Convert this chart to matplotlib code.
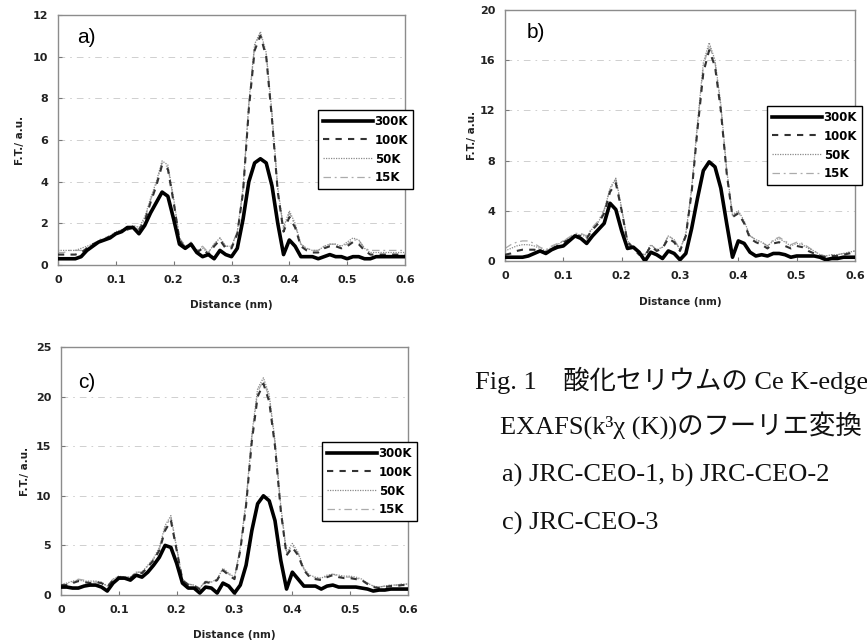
import matplotlib
matplotlib.use('Agg')
import matplotlib.pyplot as plt
import numpy as np

# ---------------- data ----------------
distance = np.round(np.arange(61) * 0.01, 2)   # nm
labels = ['300K', '100K', '50K', '15K']

a_300K = [0.3,0.3,0.3,0.3,0.4,0.7,0.9,1.1,1.2,1.3, 1.5,1.6,1.8,1.8,1.5,1.9,2.5,3.0,3.5,3.3,
          2.2,1.0,0.8,1.0,0.6,0.4,0.5,0.3,0.7,0.5, 0.4,0.8,2.2,4.0,4.9,5.1,4.9,3.8,2.0,0.5,
          1.2,0.9,0.4,0.4,0.4,0.3,0.4,0.5,0.4,0.4, 0.3,0.4,0.4,0.3,0.3,0.4,0.4,0.4,0.4,0.4,0.4]
a_100K = [0.5,0.5,0.5,0.5,0.6,0.8,1.0,1.1,1.2,1.4, 1.5,1.6,1.7,1.8,1.7,2.1,3.0,3.8,4.8,4.6,
          3.0,1.2,0.8,1.0,0.6,0.8,0.5,0.9,1.2,0.8, 0.8,1.5,3.5,7.5,10.3,11.0,10.0,7.0,3.5,1.6,
          2.3,1.8,0.9,0.7,0.6,0.6,0.8,0.9,0.9,0.8, 0.9,1.1,1.0,0.7,0.5,0.5,0.5,0.5,0.5,0.5,0.5]
a_50K = [0.7,0.7,0.7,0.7,0.8,0.9,1.0,1.1,1.2,1.4, 1.6,1.7,1.7,1.9,1.8,2.3,3.2,4.0,5.0,4.8,
         3.2,1.3,0.9,1.0,0.7,0.8,0.6,1.0,1.3,0.9, 0.9,1.6,3.7,7.8,10.6,11.2,10.2,7.3,3.7,1.8,
         2.6,2.0,1.0,0.8,0.7,0.7,0.9,1.0,1.0,0.9, 1.1,1.3,1.2,0.8,0.6,0.6,0.6,0.6,0.6,0.6,0.6]
a_15K = [0.6,0.6,0.7,0.7,0.7,0.8,1.0,1.2,1.3,1.4, 1.5,1.6,1.8,1.8,1.7,2.2,3.1,3.9,4.9,4.7,
         3.1,1.3,0.9,1.1,0.7,0.9,0.6,1.0,1.3,0.9, 0.9,1.6,3.6,7.7,10.5,11.1,10.1,7.2,3.6,1.7,
         2.5,1.9,1.0,0.8,0.7,0.7,0.9,1.0,1.0,0.9, 1.0,1.2,1.2,0.8,0.7,0.7,0.7,0.7,0.7,0.7,0.7]

b_300K = [0.3,0.3,0.3,0.3,0.4,0.6,0.8,0.6,0.9,1.1, 1.2,1.6,2.0,1.8,1.4,2.0,2.5,3.0,4.6,4.1,
          2.4,1.0,1.1,0.7,0.0,0.7,0.5,0.2,0.8,0.6, 0.1,0.6,2.6,5.0,7.2,7.9,7.5,5.8,3.0,0.3,
          1.6,1.4,0.7,0.4,0.5,0.4,0.6,0.6,0.5,0.3, 0.4,0.4,0.4,0.4,0.3,0.1,0.2,0.2,0.3,0.3,0.3]
b_100K = [0.5,0.6,0.8,0.9,0.9,0.9,0.8,0.7,1.0,1.2, 1.5,1.7,2.0,2.0,1.8,2.5,3.0,3.8,5.5,6.2,
          4.0,1.5,1.0,0.5,0.4,1.2,0.8,1.0,1.8,1.5, 0.8,2.0,5.5,10.5,15.0,16.8,15.5,12.0,7.0,3.5,
          3.8,3.0,1.8,1.5,1.3,1.0,1.4,1.5,1.2,1.0, 1.2,1.1,0.8,0.6,0.4,0.3,0.4,0.4,0.5,0.6,0.7]
b_50K = [0.8,1.0,1.2,1.3,1.3,1.2,1.0,0.8,1.1,1.3, 1.6,1.8,2.1,2.1,1.9,2.6,3.1,4.0,5.8,6.6,
         4.2,1.6,1.1,0.6,0.5,1.3,0.9,1.1,2.0,1.7, 0.9,2.2,5.8,11.0,15.8,17.4,16.0,12.5,7.3,3.7,
         4.0,3.2,2.0,1.7,1.5,1.2,1.6,1.8,1.5,1.2, 1.4,1.3,1.0,0.8,0.5,0.4,0.5,0.5,0.6,0.7,0.8]
b_15K = [1.0,1.3,1.5,1.6,1.6,1.4,1.1,0.9,1.2,1.4, 1.6,1.9,2.2,2.2,2.0,2.7,3.2,4.1,5.7,6.5,
         4.1,1.6,1.1,0.6,0.5,1.3,0.9,1.1,2.0,1.7, 0.9,2.1,5.7,10.8,15.5,17.2,15.8,12.3,7.2,3.6,
         3.9,3.1,2.0,1.7,1.5,1.2,1.7,1.9,1.6,1.3, 1.5,1.4,1.1,0.8,0.5,0.4,0.5,0.5,0.6,0.7,0.8]

c_300K = [0.8,0.8,0.7,0.7,0.9,1.0,1.0,0.8,0.4,1.2, 1.7,1.7,1.5,2.0,1.8,2.3,3.0,3.8,5.0,4.8,
          3.2,1.2,0.7,0.7,0.2,0.8,0.7,0.2,1.2,0.9, 0.2,1.0,3.0,6.5,9.2,10.0,9.5,7.5,3.5,0.6,
          2.3,1.6,0.9,0.9,0.9,0.6,0.9,1.0,0.8,0.8, 0.8,0.8,0.7,0.6,0.4,0.5,0.5,0.6,0.6,0.6,0.6]
c_100K = [1.0,1.0,1.2,1.4,1.3,1.2,1.3,1.2,0.8,1.5, 1.8,1.7,1.7,2.2,2.2,2.8,3.5,4.5,6.5,7.5,
          4.5,1.5,1.0,0.9,0.6,1.3,1.2,1.5,2.5,2.0, 1.6,4.5,9.0,15.5,20.0,21.3,19.5,15.0,8.5,4.0,
          4.8,4.0,2.5,1.8,1.6,1.5,1.8,2.0,1.8,1.7, 1.7,1.6,1.5,1.1,0.8,0.7,0.8,0.9,0.9,1.0,1.0]
c_50K = [1.1,1.2,1.4,1.5,1.4,1.4,1.4,1.3,0.9,1.6, 1.9,1.8,1.8,2.3,2.3,3.0,3.7,4.8,7.0,8.0,
         4.8,1.6,1.1,1.0,0.7,1.4,1.3,1.6,2.7,2.2, 1.8,4.8,9.5,16.2,20.8,21.9,20.2,15.6,9.0,4.3,
         5.2,4.3,2.7,2.0,1.8,1.7,2.0,2.1,2.0,1.9, 1.9,1.8,1.6,1.2,0.9,0.8,0.9,1.0,1.0,1.1,1.1]
c_15K = [1.0,1.1,1.3,1.6,1.5,1.3,1.3,1.2,0.9,1.6, 1.9,1.8,1.8,2.3,2.3,2.9,3.6,4.6,6.8,7.8,
         4.7,1.6,1.1,1.0,0.7,1.4,1.3,1.6,2.6,2.1, 1.7,4.7,9.3,15.9,20.5,21.6,19.9,15.3,8.8,4.1,
         5.0,4.2,2.6,1.9,1.7,1.6,1.9,2.1,1.9,1.8, 1.8,1.7,1.5,1.2,0.9,0.8,0.9,1.0,1.0,1.1,1.1]

x_ticks = [0, 0.1, 0.2, 0.3, 0.4, 0.5, 0.6]
x_ticklabels = ['0', '0.1', '0.2', '0.3', '0.4', '0.5', '0.6']
a_yticks = [0, 2, 4, 6, 8, 10, 12]
b_yticks = [0, 4, 8, 12, 16, 20]
c_yticks = [0, 5, 10, 15, 20, 25]

caption_lines = ['Fig. 1\u3000酸化セリウムの Ce K-edge',
                 'EXAFS(k\u00b3\u03c7 (K))のフーリエ変換',
                 'a) JRC-CEO-1, b) JRC-CEO-2',
                 'c) JRC-CEO-3']

# ---------------- styling ----------------
W, H = 867, 642
fig = plt.figure(figsize=(W / 100, H / 100), dpi=100)
fig.patch.set_facecolor('white')

styles = {
    '300K': dict(color='black', lw=2.6, ls='-', zorder=5),
    '100K': dict(color='#333333', lw=1.5, ls=(0, (3, 3)), zorder=4),
    '50K': dict(color='#8a8a8a', lw=0.9, ls=(0, (1, 1)), zorder=3),
    '15K': dict(color='#ababab', lw=0.9, ls=(0, (6, 3, 1.5, 3)), zorder=2),
}

def px_axes(l, t, r, b):
    return fig.add_axes([l / W, 1 - b / H, (r - l) / W, (b - t) / H])

panels = [
    dict(box=(58, 15, 405, 265), series=[a_300K, a_100K, a_50K, a_15K], yticks=a_yticks,
         tag='a)', tagpos=(0.055, 0.91), leg=(318, 110), xlab=-40 / 250, ylab=-0.11),
    dict(box=(505, 10, 855, 261), series=[b_300K, b_100K, b_50K, b_15K], yticks=b_yticks,
         tag='b)', tagpos=(0.063, 0.91), leg=(767, 106), xlab=-41 / 251, ylab=-0.094),
    dict(box=(61, 347, 408, 595), series=[c_300K, c_100K, c_50K, c_15K], yticks=c_yticks,
         tag='c)', tagpos=(0.05, 0.855), leg=(322, 442), xlab=-40 / 248, ylab=-0.104),
]

for p in panels:
    ax = px_axes(*p['box'])
    handles = {}
    for lab, ys in zip(labels, p['series']):
        st = styles[lab]
        (ln,) = ax.plot(distance, ys, color=st['color'], lw=st['lw'], ls=st['ls'],
                        zorder=st['zorder'], label=lab, solid_joinstyle='round')
        handles[lab] = ln
    ax.set_xlim(0, 0.6)
    ax.set_ylim(p['yticks'][0], p['yticks'][-1])
    ax.set_xticks(x_ticks)
    ax.set_xticklabels(x_ticklabels)
    ax.set_yticks(p['yticks'])
    for t in p['yticks'][1:-1]:
        ax.axhline(t, color='#c8c8c8', lw=0.6, ls=(0, (8, 6, 2, 6)), zorder=1)
    for s in ax.spines.values():
        s.set_color('#8c8c8c')
        s.set_linewidth(1.0)
    ax.tick_params(direction='in', length=3, width=0.8, color='#777777',
                   labelsize=8, pad=7)
    for tl in ax.get_xticklabels() + ax.get_yticklabels():
        tl.set_fontweight('bold')
        tl.set_color('#222222')
    ax.text(0.5, p['xlab'], 'Distance (nm)', transform=ax.transAxes, ha='center',
            va='center', fontsize=7.5, fontweight='bold', color='#222222')
    ax.text(p['ylab'], 0.5, 'F.T./ a.u.', transform=ax.transAxes, ha='center',
            va='center', rotation=90, fontsize=7.5, fontweight='bold', color='#222222')
    ax.text(p['tagpos'][0], p['tagpos'][1], p['tag'], transform=ax.transAxes,
            ha='left', va='center', fontsize=15, family='Liberation Sans')
    lx, ly = p['leg']
    leg = ax.legend([handles[l] for l in labels], labels, loc='upper left',
                    bbox_to_anchor=(lx / W, 1 - ly / H), bbox_transform=fig.transFigure,
                    borderaxespad=0, fancybox=False, framealpha=1, edgecolor='black',
                    handlelength=4.3, handletextpad=0.1, labelspacing=0.5,
                    borderpad=0.4, prop=dict(size=8.5, weight='bold'))
    leg.get_frame().set_linewidth(1.0)
    leg.set_zorder(10)

cap_font = ['Liberation Serif', 'Noto Sans CJK JP']
cap_pos = [(475, 380), (500, 425), (502, 475), (502, 523)]
for (cx, cy), line in zip(cap_pos, caption_lines):
    fig.text(cx / W, 1 - cy / H, line, ha='left', va='center', fontsize=19,
             family=cap_font, color='#111111')

fig.savefig('out.png', dpi=100)
